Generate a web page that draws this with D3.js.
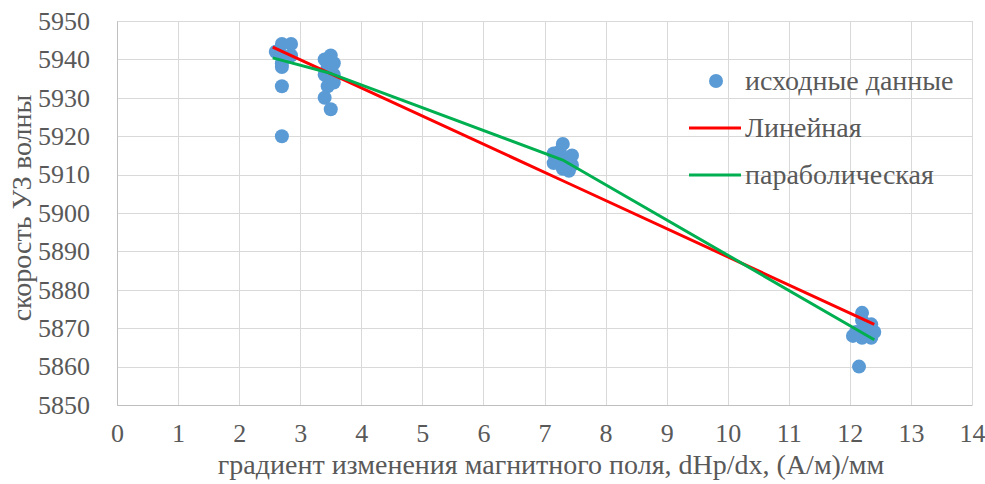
<!DOCTYPE html>
<html>
<head>
<meta charset="utf-8">
<script src="https://cdn.jsdelivr.net/npm/d3@7"></script>
</head>
<body style="margin:0">
<svg id="plot" width="985" height="484"></svg>
<script>
// Measured points: gradient dHp/dx and wave speed
const gradX = [
  2.6, 2.7, 2.85, 2.7, 2.85, 2.7, 2.7, 2.7, 2.7,
  3.4, 3.5, 3.45, 3.55, 3.4, 3.55, 3.5, 3.45, 3.55, 3.4, 3.5,
  7.3, 7.15, 7.45, 7.3, 7.15, 7.45, 7.3, 7.4, 7.25,
  12.2, 12.2, 12.1, 12.35, 12.4, 12.05, 12.2, 12.35, 12.25, 12.15
];
const speedY = [
  5942, 5944, 5944, 5941, 5941, 5939, 5938, 5933, 5920,
  5940, 5941, 5938, 5939, 5936, 5936, 5934, 5933, 5934, 5930, 5927,
  5918, 5915.5, 5915, 5914, 5913, 5912.5, 5911.5, 5911, 5916,
  5874, 5872, 5869, 5871, 5869, 5868, 5867.5, 5867.5, 5870, 5860
];

// Fitted trends evaluated at the group positions
const trendX = [2.55, 3.45, 7.3, 12.4];
const linearY = [5943.2, 5936.6, 5908.4, 5871.0];
const parabolicY = [5940.4, 5936.6, 5913.8, 5867.0];

const xTicks = d3.range(0, 15, 1);
const yTicks = d3.range(5850, 5951, 10);

const legendLabels = ["исходные данные", "Линейная", "параболическая"];
const xTitle = "градиент изменения магнитного поля, dHp/dx,  (А/м)/мм";
const yTitle = "скорость УЗ волны";

const INK = "#595959";

const svg = d3.select("#plot");
const plotL = 117, plotR = 972, plotT = 21, plotB = 405;

const x = d3.scaleLinear().domain([0, 14]).range([plotL, plotR]);
const y = d3.scaleLinear().domain([5850, 5950]).range([plotB, plotT]);

function styleText(sel, size) {
  sel.style("font-family", '"Liberation Serif"')
    .style("font-size", size + "px")
    .style("fill", INK);
}

// Grid
const grid = svg.append("g");
grid.selectAll("line.h").data(yTicks).join("line")
  .attr("x1", plotL).attr("x2", plotR)
  .attr("y1", d => Math.round(y(d)) + 0.5).attr("y2", d => Math.round(y(d)) + 0.5)
  .attr("stroke", "#d9d9d9").attr("stroke-width", 1);
grid.selectAll("line.v").data(xTicks).join("line")
  .attr("y1", plotT).attr("y2", plotB)
  .attr("x1", d => Math.round(x(d)) + 0.5).attr("x2", d => Math.round(x(d)) + 0.5)
  .attr("stroke", "#d9d9d9").attr("stroke-width", 1);

// Axes (labels only, Excel style)
const yAxis = svg.append("g").attr("transform", `translate(${plotL},0)`)
  .call(d3.axisLeft(y).tickValues(yTicks).tickSize(0).tickPadding(27).tickFormat(d3.format("d")));
yAxis.attr("font-family", null);
yAxis.select(".domain").attr("stroke", "#bfbfbf");
styleText(yAxis.selectAll("text"), 26);

const xAxis = svg.append("g").attr("transform", `translate(0,${plotB})`)
  .call(d3.axisBottom(x).tickValues(xTicks).tickSize(0).tickPadding(19).tickFormat(d3.format("d")));
xAxis.attr("font-family", null);
xAxis.select(".domain").attr("stroke", "#bfbfbf");
styleText(xAxis.selectAll("text"), 26);

const line = d3.line().x(d => x(d[0])).y(d => y(d[1]));

// Data points
svg.append("g").selectAll("circle").data(d3.zip(gradX, speedY)).join("circle")
  .attr("cx", d => x(d[0])).attr("cy", d => y(d[1])).attr("r", 7)
  .attr("fill", "#5b9bd5");

// Trend lines drawn over the points
svg.append("path").datum(d3.zip(trendX, linearY))
  .attr("d", line).attr("fill", "none").attr("stroke", "#ff0000").attr("stroke-width", 3);
svg.append("path").datum(d3.zip(trendX, parabolicY))
  .attr("d", line).attr("fill", "none").attr("stroke", "#00b050").attr("stroke-width", 3);

// Legend
const lg = svg.append("g");
lg.append("circle").attr("cx", 716).attr("cy", 81).attr("r", 7).attr("fill", "#5b9bd5");
lg.append("line").attr("x1", 689).attr("x2", 741).attr("y1", 128).attr("y2", 128)
  .attr("stroke", "#ff0000").attr("stroke-width", 3);
lg.append("line").attr("x1", 689).attr("x2", 741).attr("y1", 175).attr("y2", 175)
  .attr("stroke", "#00b050").attr("stroke-width", 3);
const lgText = lg.selectAll("text").data(legendLabels).join("text")
  .attr("x", 745).attr("y", (d, i) => 90 + i * 47).text(d => d);
styleText(lgText, 28);

// Axis titles
styleText(svg.append("text").attr("x", 551).attr("y", 474).attr("text-anchor", "middle")
  .text(xTitle), 28);
styleText(svg.append("text").attr("transform", "translate(31,208) rotate(-90)").attr("text-anchor", "middle")
  .text(yTitle), 28);
</script>
</body>
</html>
